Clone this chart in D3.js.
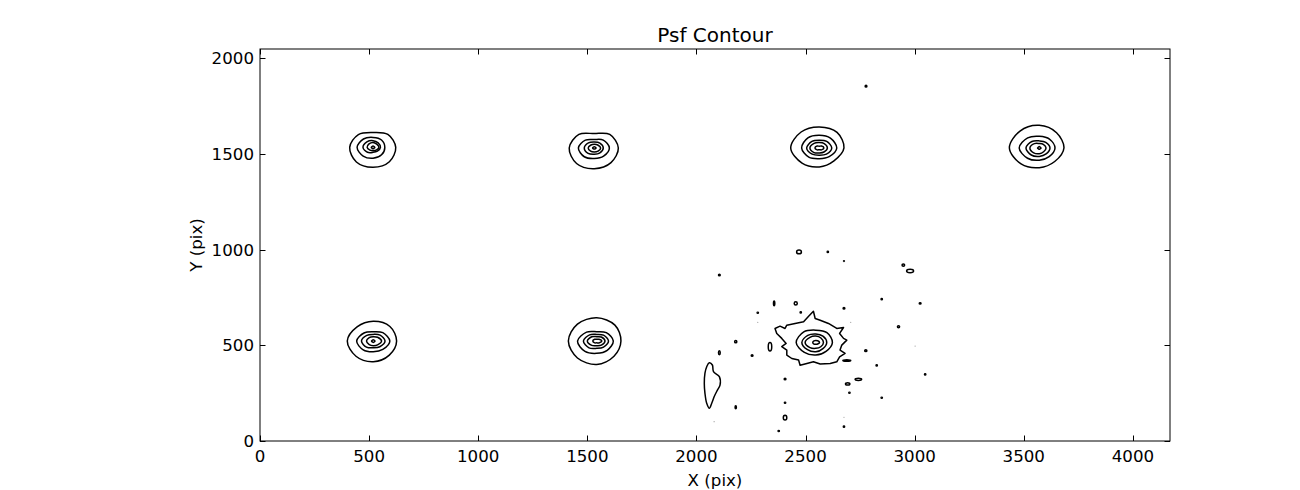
<!DOCTYPE html>
<html><head><meta charset="utf-8">
<script src="https://cdn.jsdelivr.net/npm/d3@7"></script>
<style>body{margin:0;background:#fff}svg{display:block}text{font-family:"DejaVu Sans",sans-serif;fill:#000}</style>
</head><body><svg id="c" width="1300" height="490"></svg>
<script>
// ---- data (image pixel units) ----
const xTicks = [0,500,1000,1500,2000,2500,3000,3500,4000];
const yTicks = [0,500,1000,1500,2000];
const xDomain = [0,4170];
const yDomain = [0,2048];
// star centres
const starX = [518,1532,2563,3571,519,1543,2547];
const starY = [1534,1531,1531,1531,522,522,515];
// contour ring radii at angles E,NE,N,NW,W,SW,S,SE (outer -> inner)
const starRings = [
 [[104,96,78,95,107,108,104,106],[54,55,52,62,73,64,57,55],[34,33,35,40,46,36,26,28],[27,24,26,26,27,20,17,20],[8,6,7,6,8,6,7,6]],
 [[110,100,75,100,115,115,108,108],[69,58,44,58,73,65,55,60],[41,36,31,38,46,40,33,36],[29,22,19,22,28,24,21,24],[8,6,6,6,8,6,6,6]],
 [[113,115,110,118,131,112,99,95],[80,72,66,74,81,68,56,64],[57,48,40,48,58,46,38,46],[37,32,28,34,43,34,26,30],[21,14,9,14,20,14,9,14]],
 [[113,112,118,125,137,118,103,100],[72,66,61,75,92,76,64,64],[49,42,37,48,61,52,44,44],[31,26,23,32,43,36,30,28],[8,6,7,6,8,6,7,6]],
 [[107,108,104,105,119,112,108,104],[76,62,49,60,76,65,56,62],[54,44,35,42,54,44,35,42],[38,28,23,26,31,26,24,28],[8,6,7,6,8,6,7,6]],
 [[111,118,122,125,130,125,122,112],[76,62,49,66,88,76,64,68],[54,44,35,46,61,50,38,44],[38,30,23,32,43,32,24,30],[23,14,9,13,18,13,9,14]],
 [[76,72,64,78,90,74,66,66],[50,46,44,52,64,54,49,46],[35,33,33,38,49,38,31,32],[17,12,10,12,14,12,10,12]]
];
// irregular low-level contour around the lower-right star
const haloX = [2536,2544,2567,2605,2643,2674,2656,2674,2689,2666,2658,2681,2656,2643,2613,2567,2536,2506,2475,2468,2437,2414,2414,2391,2411,2391,2368,2360,2383,2406,2414,2452,2491,2514];
const haloY = [678,640,631,614,588,593,562,536,527,501,475,458,440,414,405,402,414,405,396,423,431,449,475,493,510,536,562,588,600,588,605,614,623,652];
// elongated blob on the left
const blobX = [2059,2073,2078,2105,2108,2096,2081,2070,2059,2047,2039,2036,2039,2047];
const blobY = [409,397,362,336,292,266,231,197,171,197,249,301,354,388];
// small noise contours: centre and half sizes
const noiseX = [2470,2602,2676,2948,2979,2105,2849,3025,2356,2455,2281,2478,2676,2926,2180,2337,2105,2255,2776,2689,2826,3048,2406,2693,2742,2701,2849,2406,2180,2406,2676,2377,2777];
const noiseY = [988,988,940,919,888,867,741,719,719,719,670,672,693,597,519,492,461,447,472,421,395,348,324,298,322,252,226,200,176,122,75,52,1854];
const noiseRX = [11,3,2,6,16,4,3,4,3,7,3,3,4,5,5,8,4,4,5,18,3,3,4,10,15,3,3,3,3,8,3,3,4];
const noiseRY = [10,3,2,6,9,4,3,3,12,8,3,3,4,5,6,22,10,4,5,4,3,3,4,6,6,3,3,3,8,12,3,3,4];
// very faint specks
const faintX = [2281,2707,3002,2081,2676];
const faintY = [620,620,496,101,124];

// ---- layout ----
const L=260, R=1170, T=49, B=441;
const svg = d3.select("#c");
const x = d3.scaleLinear().domain(xDomain).range([L,R]);
const y = d3.scaleLinear().domain(yDomain).range([B,T]);

const g = svg.append("g");
const angs = d3.range(8).map(k=>k*Math.PI/4);
const ringLine = d3.line().x(d=>x(d[0])).y(d=>y(d[1])).curve(d3.curveCatmullRomClosed.alpha(0.5));
starX.forEach((cx,i)=>{
  starRings[i].forEach(r=>{
    const pts = r.map((rad,k)=>[cx+rad*Math.cos(angs[k]), starY[i]+rad*Math.sin(angs[k])]);
    g.append("path").attr("d",ringLine(pts)).attr("fill","none").attr("stroke","#000").attr("stroke-width",1.5);
  });
});
const polyLine = d3.line().x(d=>x(d[0])).y(d=>y(d[1])).curve(d3.curveLinearClosed);
g.append("path").attr("d",polyLine(haloX.map((v,i)=>[v,haloY[i]]))).attr("fill","none").attr("stroke","#000").attr("stroke-width",1.5).attr("stroke-linejoin","round");
g.append("path").attr("d",ringLine(blobX.map((v,i)=>[v,blobY[i]]))).attr("fill","none").attr("stroke","#000").attr("stroke-width",1.5);
noiseX.forEach((cx,i)=>{
  g.append("ellipse").attr("cx",x(cx)).attr("cy",y(noiseY[i]))
   .attr("rx",x(noiseRX[i])-x(0)).attr("ry",y(0)-y(noiseRY[i]))
   .attr("fill","none").attr("stroke","#000").attr("stroke-width",1.5);
});
faintX.forEach((cx,i)=>{
  g.append("circle").attr("cx",x(cx)).attr("cy",y(faintY[i])).attr("r",0.6).attr("fill","#999");
});

// ---- frame and ticks ----
svg.append("rect").attr("x",L).attr("y",T).attr("width",R-L).attr("height",B-T).attr("fill","none").attr("stroke","#000").attr("stroke-width",1);
const tl = 5.5;
xTicks.forEach(t=>{
  const px = Math.round(x(t))+0.5;
  svg.append("line").attr("x1",px).attr("x2",px).attr("y1",B).attr("y2",B-tl).attr("stroke","#000");
  svg.append("line").attr("x1",px).attr("x2",px).attr("y1",T).attr("y2",T+tl).attr("stroke","#000");
  svg.append("text").attr("x",x(t)).attr("y",B+21).attr("text-anchor","middle").style("font-size","16.67px").text(t);
});
yTicks.forEach(t=>{
  const py = Math.round(y(t))+0.5;
  svg.append("line").attr("x1",L).attr("x2",L+tl).attr("y1",py).attr("y2",py).attr("stroke","#000");
  svg.append("line").attr("x1",R).attr("x2",R-tl).attr("y1",py).attr("y2",py).attr("stroke","#000");
  svg.append("text").attr("x",L-6).attr("y",y(t)).attr("dy","0.36em").attr("text-anchor","end").style("font-size","16.67px").text(t);
});
svg.append("text").attr("x",(L+R)/2).attr("y",42).attr("text-anchor","middle").style("font-size","20px").text("Psf Contour");
svg.append("text").attr("x",(L+R)/2).attr("y",486).attr("text-anchor","middle").style("font-size","16.67px").text("X (pix)");
svg.append("text").attr("transform",`translate(202,${(T+B)/2}) rotate(-90)`).attr("text-anchor","middle").style("font-size","16.67px").text("Y (pix)");
</script></body></html>
